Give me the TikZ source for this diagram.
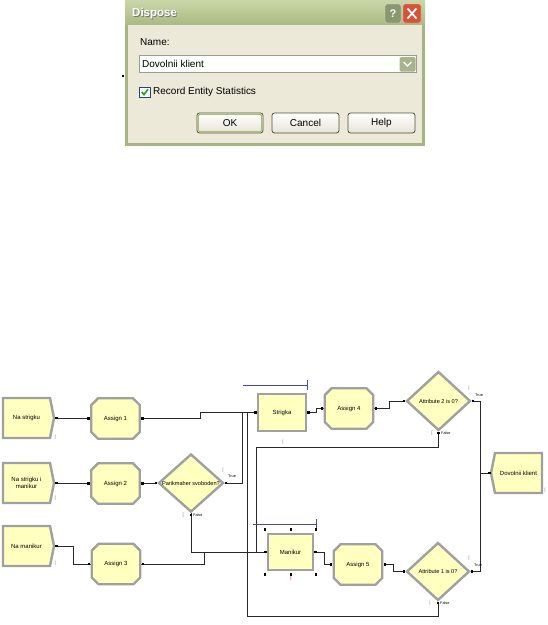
\documentclass[tikz,border=0pt]{standalone}
\usepackage{fontspec}
\setmainfont{Liberation Sans}
\usetikzlibrary{shapes.misc,shapes.geometric,calc}
\definecolor{modfill}{RGB}{255,255,192}
\definecolor{modedge}{RGB}{160,160,160}
\definecolor{qblue}{RGB}{70,70,180}
\definecolor{dlgbody}{RGB}{236,233,216}
\definecolor{tbtop}{RGB}{202,214,168}
\definecolor{tbbot}{RGB}{170,186,130}
\definecolor{frameol}{RGB}{165,180,128}
\definecolor{btnedge}{RGB}{72,80,60}
\definecolor{btnbot}{RGB}{230,228,215}
\definecolor{okfocus}{RGB}{170,190,120}
\definecolor{xred}{RGB}{212,84,58}
\definecolor{qgray}{RGB}{138,152,112}
\definecolor{ddfill}{RGB}{168,180,140}
\definecolor{cbedge}{RGB}{40,70,110}
\definecolor{chk}{RGB}{33,161,33}
\definecolor{fieldedge}{RGB}{150,160,140}
\definecolor{cntcol}{RGB}{130,130,170}
\definecolor{conncol}{RGB}{40,40,40}

\newcommand\portat[2]{\fill[black] ($#1+(#2)+(-1.2,-1.2)$) rectangle ++(2.4,2.4);}
\newcommand\createmod[4]{%
  \draw[modline] (#2,#3) -- (#2+47,#3) -- (#2+51,#3+20) -- (#2+47,#3+40) -- (#2,#3+40) -- cycle;
  \node[modtext, minimum width=47pt, minimum height=40pt] (#1) at (#2+23.5,#3+20) {#4};
  \coordinate (#1-tip) at (#2+51,#3+20);}
\newcommand\disposemod[4]{%
  \draw[modline] (#2,#3+20) -- (#2+4,#3) -- (#2+51,#3) -- (#2+51,#3+40) -- (#2+4,#3+40) -- cycle;
  \node[modtext, minimum width=47pt, minimum height=40pt] (#1) at (#2+27.5,#3+20) {#4};
  \coordinate (#1-tip) at (#2,#3+20);}

\begin{document}
\begin{tikzpicture}[x=1pt,y=-1pt,
  modline/.style={draw=modedge, line width=2.4pt, fill=modfill, line join=miter},
  modtext/.style={inner sep=0pt, align=center, font=\fontsize{6}{6.6}\selectfont},
  assignmod/.style={chamfered rectangle, chamfered rectangle xsep=4pt, chamfered rectangle ysep=4pt,
     draw=modedge, line width=2.4pt, fill=modfill, minimum width=48.5pt, minimum height=40.5pt, modtext},
  procmod/.style={rectangle, draw=modedge, line width=2.4pt, fill=modfill, modtext},
  decmod/.style={diamond, draw=modedge, line width=2.4pt, fill=modfill, modtext, aspect=1.1,
     font=\fontsize{5.6}{6.2}\selectfont},
  conn/.style={draw=conncol, line width=0.8pt},
  qline/.style={draw=qblue, line width=0.9pt},
  tf/.style={inner sep=0pt, font=\fontsize{3.8}{4}\selectfont},
  cnt/.style={inner sep=0pt, text=cntcol, font=\fontsize{5}{5}\selectfont},
  dlgtext/.style={inner sep=0pt, font=\fontsize{10}{12}\selectfont},
  btn/.style={draw=btnedge, line width=0.8pt, rounded corners=2.5pt, top color=white, bottom color=btnbot,
     minimum height=20pt, inner sep=0pt, font=\fontsize{10}{12}\selectfont}
]
\useasboundingbox (0,0) rectangle (548,625);
\fill[white] (0,0) rectangle (548,625);

% ================= dialog =================
\fill[frameol] (125,0) rectangle (425,146);
\shade[top color=tbtop, bottom color=tbbot] (125,0) rectangle (425,25);
\fill[dlgbody] (128,25) rectangle (422,143);
\node[anchor=west, inner sep=0pt, text=black!55, font=\fontsize{11.5}{12}\bfseries] (titleshadow) at (132.8,14.8) {Dispose};
\node[anchor=west, inner sep=0pt, text=white, font=\fontsize{11.5}{12}\bfseries] (title) at (132,14) {Dispose};
% help and close buttons
\draw[white!70!qgray, fill=qgray, rounded corners=2pt] (385,4) rectangle (401,23);
\node[inner sep=0pt, text=white, font=\fontsize{11}{12}\bfseries] (qmark) at (393,13.7) {?};
\draw[white!70!xred, fill=xred, rounded corners=2pt] (403,4) rectangle (421,23);
\draw[white, line width=1.7pt] (407.5,8.5) -- (416.5,18.5) (416.5,8.5) -- (407.5,18.5);
% contents
\node[dlgtext, anchor=west] (namelbl) at (140,42) {Name:};
\draw[fieldedge, fill=white] (139.5,55.5) rectangle (416.5,72.5);
\node[dlgtext, anchor=west] (namefield) at (142,64) {Dovolnii klient};
\fill[ddfill, rounded corners=1.5pt] (399.5,57) rectangle (415.5,71.5);
\draw[white, line width=1.4pt] (403.5,62) -- (407.5,66) -- (411.5,62);
\fill[black] (121.5,74.5) rectangle (123.5,76.5);
\draw[cbedge, fill=white, line width=0.8pt] (139.5,87) rectangle (150,97.5);
\draw[chk, line width=1.6pt] (141.8,92) -- (144,94.6) -- (148,89.2);
\node[dlgtext, anchor=west] (reclbl) at (153,92) {Record Entity Statistics};
\node[btn, minimum width=66pt] (okbtn) at (230,123) {OK};
\draw[okfocus, line width=1.2pt, rounded corners=1.5pt] ($(okbtn.north west)+(1.6,1.6)$) rectangle ($(okbtn.south east)+(-1.6,-1.6)$);
\node[btn, minimum width=67pt] (cancelbtn) at (305.5,123) {Cancel};
\node[btn, minimum width=67pt] (helpbtn) at (381.5,123) {Help};

% ================= flowchart: connectors =================
\coordinate (disptip) at (491,473);
\draw[conn] (3+51,418) -- (90,418);
\draw[conn] (141,418) -| (200,412.5) -- (257,412.5);
\draw[conn] (3+51,483) -- (90,483);
\draw[conn] (141,483) -- (157,483);
\draw[conn] (225,483) -| (242,412.5);
\draw[conn] (191,513) |- (267,552);
\draw[conn] (3+51,546) -| (73,564) -- (91,564);
\draw[conn] (141,564) -| (204,552);
\draw[conn] (307,412.5) -| (316,408) -- (324,408);
\draw[conn] (374,408) -| (389,401) -- (405,401);
\draw[conn] (472,401) -| (480,473) -- (disptip);
\draw[conn] (438.5,432) |- (256,447) |- (267,552);
\draw[conn] (314,552) -| (324,564) -- (332,564);
\draw[conn] (384,564) -| (393,571.5) -- (405,571.5);
\draw[conn] (471,571.5) -| (480,473);
\draw[conn] (438,602) |- (247,616) |- (257,412.5);

% ================= modules =================
\createmod{nastr}{3}{398}{Na strigku}
\createmod{nastrman}{3}{463}{Na strigku i\\manikur}
\createmod{naman}{3}{526}{Na manikur}
\node[assignmod] (as1) at (115.5,418.5) {Assign 1};
\node[assignmod] (as2) at (115.5,483.5) {Assign 2};
\node[assignmod] (as3) at (116,564) {Assign 3};
\node[decmod, minimum width=65pt, minimum height=58pt] (dec1) at (191,483) {Parikmaher svoboden?};
\node[procmod, minimum width=47.6pt, minimum height=36.6pt] (strigka) at (282,412.5) {Strigka};
\node[procmod, minimum width=44.6pt, minimum height=35.6pt] (manikur) at (290.5,552) {Manikur};
\node[assignmod] (as4) at (349,408.5) {Assign 4};
\node[assignmod] (as5) at (358,564.5) {Assign 5};
\node[decmod, minimum width=64pt, minimum height=59pt] (dec2) at (438.5,401) {Attribute 2 is 0?};
\node[decmod, minimum width=63pt, minimum height=58pt] (dec3) at (438,571.5) {Attribute 1 is 0?};
\disposemod{disp}{491}{453}{Dovolnii klient}

% queue symbols
\draw[qline] (243,385) -- (307,385);
\draw[qline] (307,380) -- (307,390);
\draw[qline] (253,524) -- (316,524);
\draw[qline] (316,519) -- (316,529);

% selection handles on Manikur
\foreach \hx in {265,291,316}{\foreach \hy in {529.5,574.5}{\fill[black] (\hx-1.3,\hy-1.3) rectangle (\hx+1.3,\hy+1.3);}}

% ports
\portat{(nastr-tip)}{2.5,0}
\portat{(nastrman-tip)}{2.5,0}
\portat{(naman-tip)}{2.5,0}
\portat{(as1.west)}{-1.5,0}
\portat{(as2.west)}{-1.5,0}
\portat{(as3.west)}{-1.5,0}
\portat{(as1.east)}{1.5,0}
\portat{(as2.east)}{1.5,0}
\portat{(as3.east)}{1.5,0}
\portat{(dec1.west)}{-1.5,0}
\portat{(dec1.east)}{1.5,0}
\portat{(dec1.south)}{0,1.5}
\portat{(strigka.west)}{-1.5,0}
\portat{(strigka.east)}{1.5,0}
\portat{(manikur.west)}{-1.5,0}
\portat{(manikur.east)}{1.5,0}
\portat{(as4.west)}{-1.5,0}
\portat{(as4.east)}{1.5,0}
\portat{(as5.west)}{-1.5,0}
\portat{(as5.east)}{1.5,0}
\portat{(dec2.west)}{-1.5,0}
\portat{(dec2.east)}{1.5,0}
\portat{(dec2.south)}{0,1.5}
\portat{(dec3.west)}{-1.5,0}
\portat{(dec3.east)}{1.5,0}
\portat{(dec3.south)}{0,1.5}
\portat{(disp-tip)}{-1.5,0}

% true / false labels
\node[cnt] (c1t) at (223,470) {|};
\node[tf, anchor=west] (t1) at (228,476) {True};
\node[cnt] (c1f) at (183,515) {]};
\node[tf, anchor=west] (f1) at (193,515.5) {False};
\node[cnt] (c2t) at (469,388) {|};
\node[tf, anchor=west] (t2) at (475,395) {True};
\node[cnt] (c2f) at (432,433) {[};
\node[tf, anchor=west] (f2) at (441,433.5) {False};
\node[cnt] (c3t) at (469,558) {|};
\node[tf, anchor=west] (t3) at (474,565) {True};
\node[cnt] (c3f) at (430,603) {|};
\node[tf, anchor=west] (f3) at (440,603.5) {False};

% counters
\node[cnt] (k1) at (55.5,437) {(};
\node[cnt] (k2) at (55.5,498) {(};
\node[cnt] (k3) at (55.5,563) {(};
\node[cnt] (k4) at (283,442) {|};
\node[cnt, text=red!70!black] (k5) at (291,578.5) {|};
\node[cnt] (k6) at (545,490) {|};
\end{tikzpicture}
\end{document}
